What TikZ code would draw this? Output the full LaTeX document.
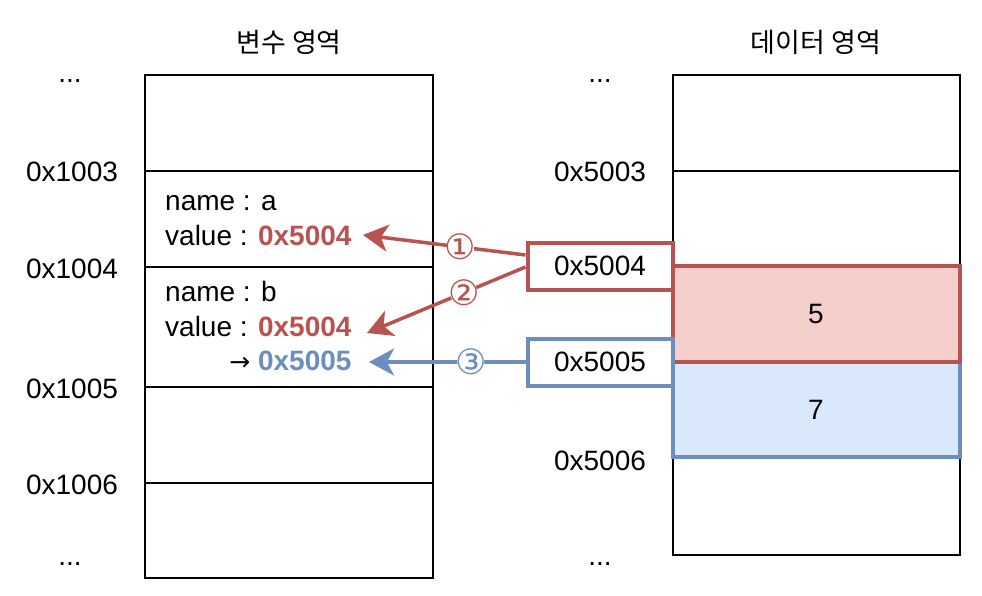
\documentclass[tikz,border=0pt]{standalone}
\usepackage{fontspec}
\setmainfont{Liberation Sans}
\newfontfamily\krfont{Noto Sans CJK KR}
\newfontfamily\symfont{DejaVu Sans}
\usetikzlibrary{arrows.meta}
\definecolor{rstroke}{HTML}{B85450}
\definecolor{rfill}{HTML}{F5CFCC}
\definecolor{bstroke}{HTML}{6C8EBF}
\definecolor{bfill}{HTML}{DAE8FC}
\begin{document}
\begin{tikzpicture}[x=1pt,y=-1pt,
  txt/.style={font=\fontsize{28}{34}\selectfont, inner sep=0pt, anchor=base},
  ttl/.style={font=\krfont\fontsize{27}{32}\selectfont, inner sep=0pt, anchor=center},
  cellline/.style={line width=2pt, black},
  membox/.style={draw=black, line width=2pt},
  redbox/.style={draw=rstroke, line width=4pt},
  bluebox/.style={draw=bstroke, line width=4pt},
  ptr/.style={line width=3.5pt, -{Stealth[length=25pt,width=27pt,inset=7pt]}},
  numbg/.style={circle, fill=white, inner sep=0pt, minimum size=27pt},
  num/.style={inner sep=0pt, font=\symfont\fontsize{35}{35}\selectfont}
]
\useasboundingbox (0,0) rectangle (982,596);
\fill[white] (0,0) rectangle (982,596);

% titles
\node[ttl] (t1) at (289,42) {변수 영역};
\node[ttl] (t2) at (816,42) {데이터 영역};

% left memory column
\draw[membox] (145,75) rectangle (433,578);
\coordinate (l1a) at (145,171); \coordinate (l1b) at (433,171);
\coordinate (l2a) at (145,267); \coordinate (l2b) at (433,267);
\coordinate (l3a) at (145,387); \coordinate (l3b) at (433,387);
\coordinate (l4a) at (145,483); \coordinate (l4b) at (433,483);
\draw[cellline] (l1a) -- (l1b);
\draw[cellline] (l2a) -- (l2b);
\draw[cellline] (l3a) -- (l3b);
\draw[cellline] (l4a) -- (l4b);

% right memory column
\draw[membox] (673,75) rectangle (960,555);
\coordinate (r1a) at (673,171); \coordinate (r1b) at (960,171);
\coordinate (r2a) at (673,457); \coordinate (r2b) at (960,457);
\draw[cellline] (r1a) -- (r1b);
\draw[cellline] (r2a) -- (r2b);

% left address labels
\node[txt] (ld1) at (70,83) {...};
\node[txt] (la3) at (72,182) {0x1003};
\node[txt] (la4) at (72,278) {0x1004};
\node[txt] (la5) at (72,398) {0x1005};
\node[txt] (la6) at (72,494) {0x1006};
\node[txt] (ld2) at (70,565) {...};

% right address labels
\node[txt] (rd1) at (600,83) {...};
\node[txt] (ra3) at (600,182) {0x5003};
\node[txt] (ra6) at (600,470) {0x5006};
\node[txt] (rd2) at (600,565) {...};

% variable contents
\node[txt, anchor=base west] (na) at (165,211) {name : a};
\node[txt, anchor=base west] (va) at (165,245) {value : \textcolor{rstroke}{\bfseries 0x5004}};
\node[txt, anchor=base west] (nb) at (165,301) {name : b};
\node[txt, anchor=base west] (vb) at (165,336) {value : \textcolor{rstroke}{\bfseries 0x5004}};
\node[txt, anchor=base west] (vc) at (165,370) {\hphantom{value : }\llap{{\symfont\fontsize{25}{28}\selectfont →}\ }\textcolor{bstroke}{\bfseries 0x5005}};

% data cells
\coordinate (d5nw) at (673,266); \coordinate (d5se) at (960,362);
\coordinate (d7nw) at (673,362); \coordinate (d7se) at (960,457);
\draw[bluebox, fill=bfill] (d7nw) rectangle (d7se);
\draw[redbox, fill=rfill] (d5nw) rectangle (d5se);
\node[txt, anchor=center] (v5) at (816,314) {5};
\node[txt, anchor=center] (v7) at (816,410) {7};

% address boxes
\node[redbox, fill=white, minimum width=145pt, minimum height=47pt, inner sep=0pt, font=\fontsize{28}{34}\selectfont] (b4) at (600,266) {0x5004};
\node[bluebox, fill=white, minimum width=145pt, minimum height=47pt, inner sep=0pt, font=\fontsize{28}{34}\selectfont] (b5) at (600,362) {0x5005};

% pointer arrows
\coordinate (tip1) at (363,235);
\coordinate (tip2) at (367,333);
\coordinate (tip3) at (369,362);
\draw[ptr, rstroke] ([yshift=11pt]b4.west) -- (tip1) node[numbg, pos=0.4] (c1) {};
\draw[ptr, rstroke] ([yshift=-1pt]b4.west) -- (tip2) node[numbg, pos=0.39] (c2) {};
\draw[ptr, bstroke] (b5.west) -- (tip3) node[numbg, pos=0.35] (c3) {};
\node[num, text=rstroke] (n1) at (c1) {①};
\node[num, text=rstroke] (n2) at (c2) {②};
\node[num, text=bstroke] (n3) at (c3) {③};
\end{tikzpicture}
\end{document}
